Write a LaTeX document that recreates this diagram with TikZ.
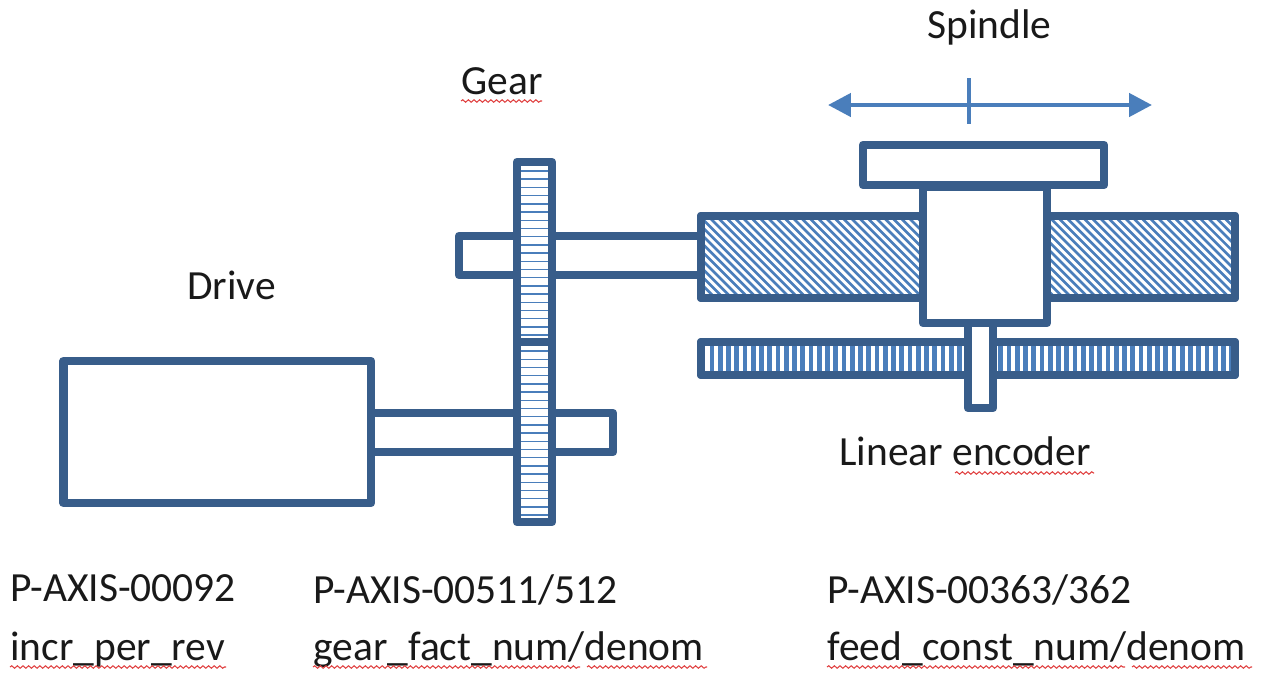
\documentclass[tikz,border=0pt]{standalone}
\usepackage{fontspec}
\setmainfont{Carlito}
\usepackage{xcolor}
\usetikzlibrary{arrows.meta, decorations.pathmorphing}
\definecolor{partblue}{HTML}{385D8A}
\definecolor{hatchblue}{HTML}{4A7EBB}
\definecolor{wavered}{HTML}{E04040}

\begin{document}
\begin{tikzpicture}[
    x=0.2mm, y=-0.2mm,
    part/.style={draw=partblue, line width=5pt, line join=round, fill=white},
    outline/.style={draw=partblue, line width=5pt, line join=round},
    lbl/.style={font=\fontsize{23.6pt}{28pt}\selectfont, anchor=base west, inner sep=0pt, text=black!90},
    arr/.style={draw=hatchblue, line width=2.6pt, {Triangle[length=13pt, width=13pt]}-{Triangle[length=13pt, width=13pt]}},
    wavy/.style={draw=wavered, line width=0.6pt, decorate, decoration={snake, segment length=3.2pt, amplitude=0.7pt}},
]
\useasboundingbox (0,0) rectangle (1266,672);

% Drive and its shaft
\draw[part] (371,413) rectangle (613,452);
\draw[part] (63.5,361) rectangle (371,503);

% upper shaft
\draw[part] (459,236) rectangle (701,275);

% Gear wheels
\draw[part] (517,162) rectangle (552,342);
\draw[part] (517,342) rectangle (552,522);
\foreach \y in {171,179.2,...,336} {
  \draw[hatchblue, line width=0.8pt] (521,\y) -- (548,\y);
}
\foreach \y in {351,359.2,...,516} {
  \draw[hatchblue, line width=0.8pt] (521,\y) -- (548,\y);
}

% Spindle screw
\draw[part] (701,216) rectangle (1235,298);
\begin{scope}
  \clip (701,216) rectangle (1235,298);
  \foreach \x in {600,608.3,...,1240} {
    \draw[hatchblue, line width=1.5pt] (\x,216) -- (\x+82,298);
  }
\end{scope}
\draw[outline] (701,216) rectangle (1235,298);

% Encoder scale
\draw[part] (701,342) rectangle (1235,375);
\foreach \x in {712,720.25,...,1232} {
  \draw[hatchblue, line width=2.6pt] (\x,346) -- (\x,371);
}
\draw[outline] (701,342) rectangle (1235,375);

% Slide
\draw[part] (968,323) rectangle (993,408);
\draw[part] (923,187) rectangle (1047,323);
\draw[part] (863,145) rectangle (1104,185);

% Travel arrow
\coordinate (arrleft) at (828,105);
\coordinate (arrright) at (1152,105);
\coordinate (tickup) at (969,78);
\coordinate (tickdown) at (969,124);
\draw[arr] (arrleft) -- (arrright);
\draw[draw=hatchblue, line width=2.6pt] (tickup) -- (tickdown);

% Labels
\node[lbl] (spindle) at (927,38) {Spindle};
\node[lbl] (gear) at (461,94) {Gear};
\node[lbl] (drive) at (187,299) {Drive};
\node[lbl] (encoder) at (839,465) {Linear encoder};
\node[lbl] (drivepar) at (10,601) {P-AXIS-00092};
\node[lbl] (drivename) at (10,660) {incr\_per\_rev};
\node[lbl] (gearpar) at (313,603) {P-AXIS-00511/512};
\node[lbl] (gearname) at (313,660) {gear\_fact\_num/denom};
\node[lbl] (feedpar) at (827,603) {P-AXIS-00363/362};
\node[lbl] (feedname) at (827,660) {feed\_const\_num/denom};

% Spell check marks
\draw[wavy] (461,101) -- (542,101);
\draw[wavy] (955,473) -- (1094,473);
\draw[wavy] (10,667) -- (226,667);
\draw[wavy] (313,667) -- (580,667);
\draw[wavy] (587,667) -- (707,667);
\draw[wavy] (827,667) -- (1125,667);
\draw[wavy] (1132,667) -- (1252,667);

\end{tikzpicture}
\end{document}
